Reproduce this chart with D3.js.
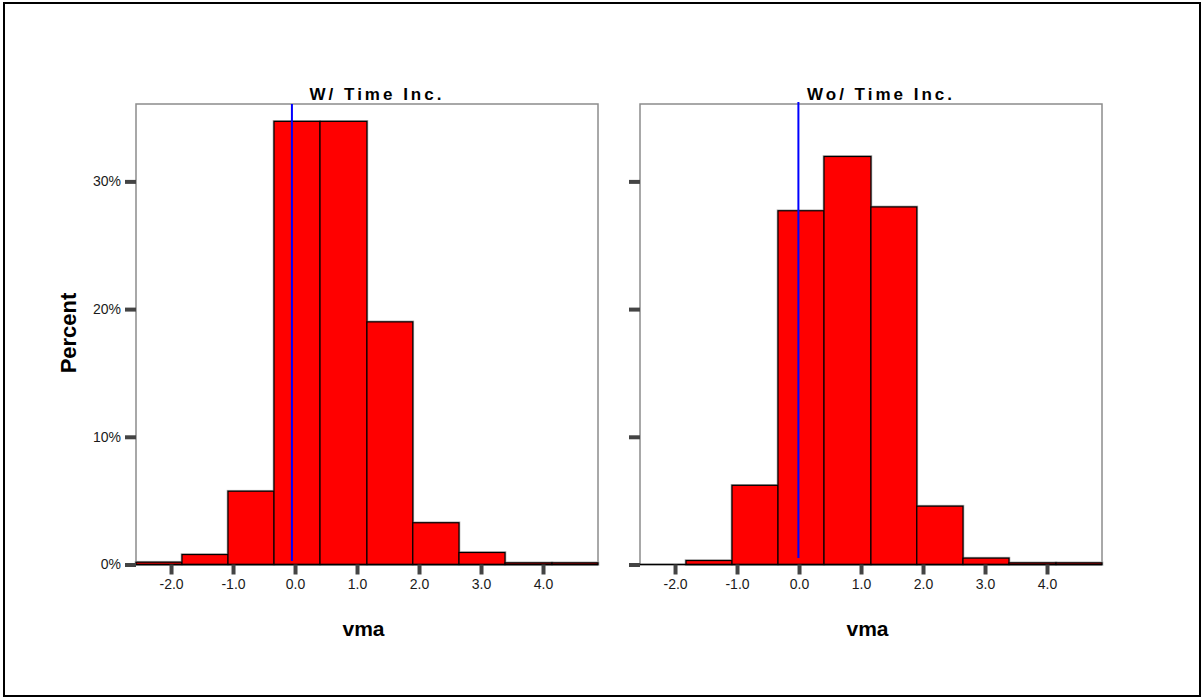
<!DOCTYPE html>
<html>
<head>
<meta charset="utf-8">
<script src="https://cdn.jsdelivr.net/npm/d3@7"></script>
<style>
  html, body { margin: 0; padding: 0; background: #fff; }
  svg { display: block; font-family: Arial, "Liberation Sans", sans-serif; }
</style>
</head>
<body>
<svg id="chart" width="1204" height="698"></svg>
<script>
// Histogram bin edges of vma (shared by both panels)
const binEdges = [-2.565, -1.823, -1.081, -0.339, 0.403, 1.16, 1.90, 2.645, 3.387, 4.145, 4.887];

// Percent of cases in each bin
const panelTitles = ["W/ Time Inc.", "Wo/ Time Inc."];
const pctWithTime = [0.18, 0.78, 5.74, 34.7, 34.7, 19.0, 3.27, 0.94, 0.13, 0.13];
const pctWithoutTime = [0.0, 0.31, 6.2, 27.7, 31.95, 28.0, 4.57, 0.5, 0.13, 0.13];
const seriesValues = [pctWithTime, pctWithoutTime];

// Reference line position for each panel
const refLines = [-0.05, -0.01];

const xTicks = [-2, -1, 0, 1, 2, 3, 4];
const yTicks = [0, 10, 20, 30];
const xDomain = [-2.565, 4.887];
const yDomain = [0, 36.06];

const svg = d3.select("#chart");

// outer border
svg.append("rect")
  .attr("x", 4).attr("y", 3).attr("width", 1196).attr("height", 693)
  .attr("fill", "none").attr("stroke", "#000").attr("stroke-width", 2);

const panelLeft = [136, 640];
const panelWidth = 462;
const plotTop = 104, plotBottom = 564.5;

const y = d3.scaleLinear().domain(yDomain).range([plotBottom, plotTop]);
const fmtX = d => d3.format(".1f")(d).replace("\u2212", "-");

panelTitles.forEach((title, p) => {
  const x = d3.scaleLinear().domain(xDomain).range([panelLeft[p], panelLeft[p] + panelWidth]);
  const g = svg.append("g");
  const vals = seriesValues[p];

  const bins = vals.map((v, i) => ({ x0: binEdges[i], x1: binEdges[i + 1], v }));

  // plot frame
  g.append("rect")
    .attr("x", x(xDomain[0])).attr("y", plotTop)
    .attr("width", x(xDomain[1]) - x(xDomain[0])).attr("height", plotBottom - plotTop)
    .attr("fill", "#fff").attr("stroke", "#8c8c8c").attr("stroke-width", 1.5);

  // soft halo behind bar outlines
  g.selectAll("rect.halo").data(bins.filter(d => d.v > 0)).join("rect")
    .attr("class", "halo")
    .attr("x", d => x(d.x0)).attr("y", d => y(d.v))
    .attr("width", d => x(d.x1) - x(d.x0)).attr("height", d => y(0) - y(d.v))
    .attr("fill", "none").attr("stroke", "#a8a8a8").attr("stroke-width", 2.6);

  // bars
  g.selectAll("rect.bar").data(bins.filter(d => d.v > 0)).join("rect")
    .attr("class", "bar")
    .attr("x", d => x(d.x0)).attr("y", d => y(d.v))
    .attr("width", d => x(d.x1) - x(d.x0)).attr("height", d => y(0) - y(d.v))
    .attr("fill", "#ff0000").attr("stroke", "#000").attr("stroke-width", 1.2);

  // baseline
  g.append("line")
    .attr("x1", x(xDomain[0])).attr("x2", x(xDomain[1]))
    .attr("y1", y(0)).attr("y2", y(0))
    .attr("stroke", "#000").attr("stroke-width", 1.5);

  // reference line
  g.append("line")
    .attr("x1", x(refLines[p])).attr("x2", x(refLines[p]))
    .attr("y1", p === 0 ? plotTop : plotTop - 2).attr("y2", p === 0 ? 561 : 558)
    .attr("stroke", "#0000ff").attr("stroke-width", 2);

  // x axis
  const xAxis = d3.axisBottom(x).tickValues(xTicks).tickFormat(fmtX)
    .tickSizeInner(10).tickSizeOuter(0).tickPadding(5);
  const ax = g.append("g").attr("transform", `translate(0,${plotBottom})`).call(xAxis);
  ax.select(".domain").remove();
  ax.selectAll(".tick line").attr("stroke", "#444").attr("stroke-width", 4);
  ax.selectAll(".tick text").attr("fill", "#1a1a1a").attr("font-size", 14)
    .attr("font-family", "Arial, 'Liberation Sans', sans-serif");

  // y axis
  const yAxis = d3.axisLeft(y).tickValues(yTicks).tickFormat(d => d + "%")
    .tickSizeInner(11).tickSizeOuter(0).tickPadding(4);
  const ay = g.append("g").attr("transform", `translate(${x(xDomain[0])},0)`).call(yAxis);
  ay.select(".domain").remove();
  ay.selectAll(".tick line").attr("stroke", "#444").attr("stroke-width", 4);
  ay.selectAll(".tick text").attr("fill", "#1a1a1a").attr("font-size", 14)
    .attr("font-family", "Arial, 'Liberation Sans', sans-serif");
  if (p === 1) ay.selectAll(".tick text").remove();

  // panel title
  g.append("text")
    .attr("x", (x(xDomain[0]) + x(xDomain[1])) / 2 + 10).attr("y", 100)
    .attr("text-anchor", "middle")
    .attr("font-size", 17).attr("font-weight", "bold")
    .attr("letter-spacing", 3)
    .attr("fill", "#000")
    .text(title);

  // x axis title
  g.append("text")
    .attr("x", (x(xDomain[0]) + x(xDomain[1])) / 2 - 3.5).attr("y", 636)
    .attr("text-anchor", "middle")
    .attr("font-size", 21).attr("font-weight", "bold")
    .attr("fill", "#000")
    .text("vma");
});

// y axis title
svg.append("text")
  .attr("transform", "translate(76,333) rotate(-90)")
  .attr("text-anchor", "middle")
  .attr("font-size", 22).attr("font-weight", "bold")
  .attr("fill", "#000")
  .text("Percent");
</script>
</body>
</html>
